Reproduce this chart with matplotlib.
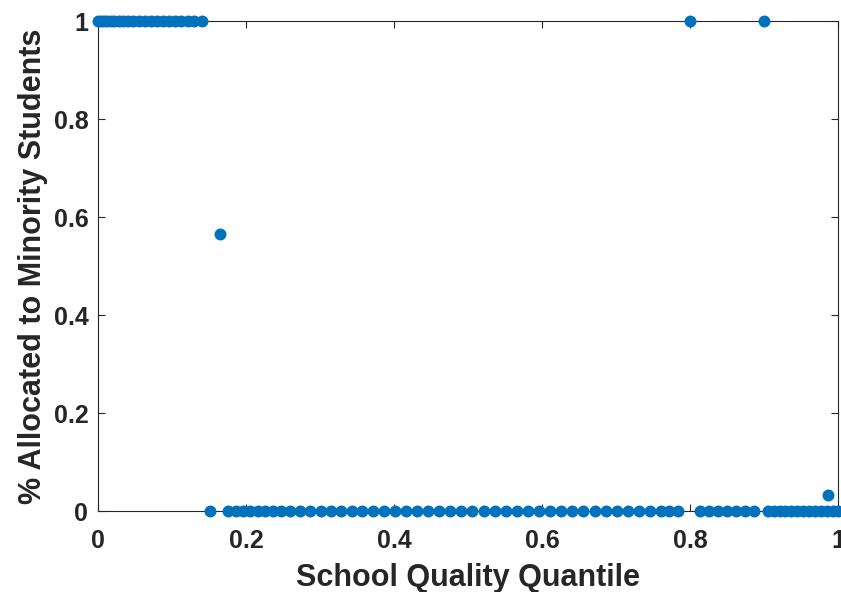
import matplotlib
matplotlib.use("Agg")
import matplotlib.pyplot as plt

plt.rcParams['font.family'] = ['Liberation Sans', 'DejaVu Sans']
plt.rcParams['font.weight'] = 'bold'

# School quality quantiles and share allocated to minority students
x_top = [0.000, 0.004, 0.008, 0.012, 0.017, 0.022, 0.028, 0.034, 0.041, 0.048,
         0.056, 0.064, 0.072, 0.080, 0.088, 0.096, 0.104, 0.112, 0.121, 0.130, 0.140]
y_top = [1.0] * len(x_top)

x_mid_pts = [0.151, 0.165]
y_mid_pts = [0.0, 0.565]

x_low = [0.176, 0.186, 0.196, 0.206, 0.216, 0.226, 0.237, 0.248, 0.260, 0.273,
         0.287, 0.301, 0.315, 0.329, 0.343, 0.357, 0.371, 0.386, 0.401, 0.416,
         0.431, 0.446, 0.461, 0.476, 0.491, 0.506, 0.521, 0.536, 0.551, 0.566,
         0.581, 0.596, 0.611, 0.626, 0.641, 0.656, 0.671, 0.686, 0.701, 0.716,
         0.731, 0.746, 0.761, 0.772, 0.784,
         0.814, 0.826, 0.838, 0.850, 0.862, 0.874, 0.886,
         0.905, 0.913, 0.921, 0.929, 0.937, 0.945, 0.953, 0.961, 0.969, 0.977,
         0.985, 0.993, 1.000]
y_low = [0.0] * len(x_low)

x_high = [0.800, 0.900, 0.987]
y_high = [1.0, 1.0, 0.033]

x_ticks = [0, 0.2, 0.4, 0.6, 0.8, 1]
x_tick_labels = ['0', '0.2', '0.4', '0.6', '0.8', '1']
y_ticks = [0, 0.2, 0.4, 0.6, 0.8, 1]
y_tick_labels = ['0', '0.2', '0.4', '0.6', '0.8', '1']

color = '#0072BD'

fig = plt.figure(figsize=(8.41, 5.92), dpi=100)
ax = fig.add_axes([0.1165, 0.1368, 0.8799, 0.8277])

xs = x_top + x_mid_pts + x_low + x_high
ys = y_top + y_mid_pts + y_low + y_high
ax.plot(xs, ys, linestyle='none', marker='o', markersize=8.6,
        color=color, markeredgewidth=0, clip_on=False, zorder=3)

ax.set_xlim(0, 1)
ax.set_ylim(0, 1)
ax.set_xticks(x_ticks)
ax.set_xticklabels(x_tick_labels)
ax.set_yticks(y_ticks)
ax.set_yticklabels(y_tick_labels)
ax.tick_params(direction='in', length=5, width=0.8, labelsize=18,
               top=True, right=True, colors='#262626')
ax.tick_params(axis='x', pad=13)
ax.tick_params(axis='y', pad=7)
for lab in ax.get_xticklabels() + ax.get_yticklabels():
    lab.set_fontweight('bold')
for s in ax.spines.values():
    s.set_linewidth(0.8)
    s.set_color('#262626')

ax.set_xlabel('School Quality Quantile', fontsize=22, fontweight='bold',
              color='#262626', labelpad=7)
ax.set_ylabel('% Allocated to Minority Students', fontsize=22,
              fontweight='bold', color='#262626', labelpad=4)

fig.savefig('out.png', dpi=100)
